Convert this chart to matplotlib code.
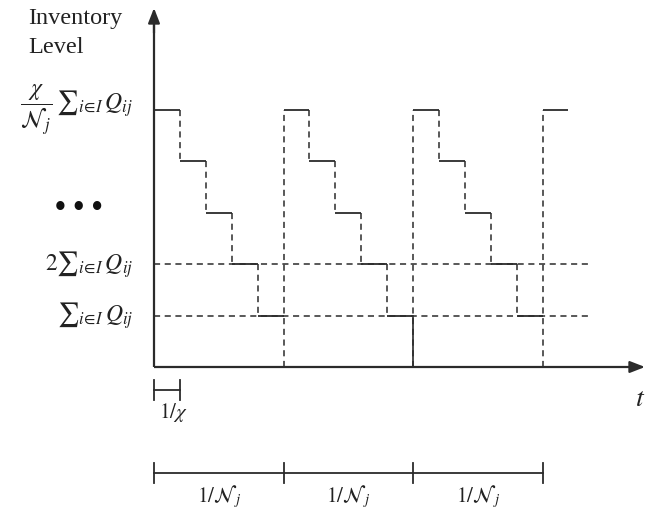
"""Sawtooth inventory-level diagram with staircase depletion."""

import matplotlib
matplotlib.use("Agg")
import matplotlib.pyplot as plt

# x in units of 1/chi (one step), y in units of sum_i Q_ij
step_levels = [5, 4, 3, 2, 1, 5, 4, 3, 2, 1, 5, 4, 3, 2, 1, 5]
cycle_starts = [5, 10, 15]          # replenishment instants
reference_levels = [1, 2]           # dashed guides
bracket_ticks = [0, 5, 10, 15]      # 1/N_j intervals
level_labels = [
    (5, r"$\dfrac{\chi}{\mathcal{N}_{\,j}}\,{\sum}_{i\!\in\! I}\,Q_{ij}$"),
    (2, r"$2{\sum}_{i\!\in\! I}\,Q_{ij}$"),
    (1, r"${\sum}_{i\!\in\! I}\,Q_{ij}$"),
]

plt.rcParams["mathtext.fontset"] = "stix"
plt.rcParams["font.family"] = ["Liberation Serif", "DejaVu Serif"]

INK = "#2b2b2b"
X0, Y0, SX, SY = 154, 367, 25.9, 51.4   # pixel origin and scale


fig = plt.figure(figsize=(6.52, 5.22), dpi=100)
ax = fig.add_axes([0, 0, 1, 1])
ax.set_xlim(-X0 / SX, (652 - X0) / SX)
ax.set_ylim((Y0 - 522) / SY, Y0 / SY)
ax.axis("off")

# axes with arrows
ax.plot([0, 0], [0, 6.7], color=INK, lw=1.6, solid_capstyle="butt")
ax.plot([0, 18.4], [0, 0], color=INK, lw=1.6, solid_capstyle="butt")
ax.annotate("", xy=(0, (Y0 - 8) / SY), xytext=(0, 6.5),
            arrowprops=dict(arrowstyle="-|>,head_length=0.9,head_width=0.35",
                            color=INK, lw=1.6, shrinkA=0, shrinkB=0))
ax.annotate("", xy=((645 - X0) / SX, 0), xytext=(18.4, 0),
            arrowprops=dict(arrowstyle="-|>,head_length=0.9,head_width=0.35",
                            color=INK, lw=1.6, shrinkA=0, shrinkB=0))

# reference guides
for lv in reference_levels:
    ax.plot([0, (590 - X0) / SX], [lv, lv], color=INK, lw=1.1,
            linestyle=(0, (4, 3)))

# staircase
for i, lv in enumerate(step_levels):
    ax.plot([i, i + 1], [lv, lv], color=INK, lw=1.3, solid_capstyle="butt")
    if i + 1 < len(step_levels):
        nxt = step_levels[i + 1]
        if nxt < lv:
            ax.plot([i + 1, i + 1], [lv, nxt], color=INK, lw=1.1,
                    linestyle=(0, (4, 3)))
for c in cycle_starts:
    ax.plot([c, c], [0, step_levels[c]], color=INK, lw=1.1,
            linestyle=(0, (4, 3)))
# the middle replenishment line is drawn solid below the lowest step
ax.plot([cycle_starts[1]] * 2, [0, reference_levels[0]], color=INK, lw=1.2)

# labels on the left
for lv, txt in level_labels:
    ax.text(-0.8, lv, txt, ha="right", va="center", fontsize=17, color="#222")
ax.text((78.5 - X0) / SX, (Y0 - 205) / SY, "• • •", ha="center",
        va="center_baseline", fontsize=22, color="#111", fontweight="bold")
ax.text((28 - X0) / SX, (Y0 - 33) / SY, "Inventory\nLevel", ha="left",
        va="center", fontsize=17.5, color="#222", linespacing=1.45)
ax.text((640 - X0) / SX, (Y0 - 400) / SY, "$t$", ha="center", va="center",
        fontsize=20, color="#222")

# 1/chi bracket
yb = (Y0 - 390) / SY
th = 10 / SY
ax.plot([0, 1], [yb, yb], color=INK, lw=1.3)
for xx in (0, 1):
    ax.plot([xx, xx], [yb - th, yb + th], color=INK, lw=1.3)
ax.text(0.75, (Y0 - 412) / SY, r"$1/\chi$", ha="center", va="center",
        fontsize=15, color="#222")

# 1/N_j brackets
yb = (Y0 - 473) / SY
ax.plot([bracket_ticks[0], bracket_ticks[-1]], [yb, yb], color=INK, lw=1.3)
for xx in bracket_ticks:
    ax.plot([xx, xx], [yb - th, yb + th], color=INK, lw=1.3)
for a, b in zip(bracket_ticks[:-1], bracket_ticks[1:]):
    ax.text((a + b) / 2, (Y0 - 497) / SY, r"$1/\mathcal{N}_{\,j}$",
            ha="center", va="center", fontsize=15, color="#222")

fig.savefig("out.png", dpi=100)
